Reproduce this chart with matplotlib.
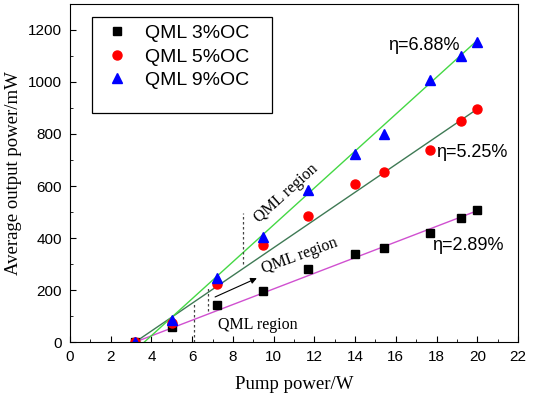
import matplotlib.pyplot as plt
from matplotlib.patches import Rectangle
from matplotlib.ticker import MultipleLocator

pump = [3.2, 5.0, 7.2, 9.5, 11.7, 14.0, 15.4, 17.7, 19.2, 20.0]
oc3 = [0, 58, 142, 196, 281, 338, 361, 419, 477, 507]
oc5 = [0, 72, 223, 373, 485, 607, 654, 738, 850, 896]
oc9 = [0, 85, 246, 404, 585, 723, 800, 1008, 1100, 1154]

# fit lines (start, end)
fit3_x = [3.2, 20.0]
fit3_y = [0, 505]
fit5_x = [3.2, 20.0]
fit5_y = [0, 896]
fit9_x = [3.65, 20.0]
fit9_y = [0, 1160]

# dashed markers of the QML region boundaries
dash_x = [6.1, 6.8, 8.5]
dash_lo = [0, 120, 300]
dash_hi = [146, 211, 496]

serif = "Liberation Serif"
sans = "Liberation Sans"

fig = plt.figure(figsize=(5.36, 3.95), dpi=100)
ax = fig.add_axes([0.1306, 0.134, 0.8358, 0.856])

ax.plot(fit3_x, fit3_y, color="#d050d0", lw=1.0)
ax.plot(fit5_x, fit5_y, color="#3f7a55", lw=1.0)
ax.plot(fit9_x, fit9_y, color="#44d844", lw=1.0)

ax.plot(pump, oc3, "s", color="black", ms=6, label="QML 3%OC")
ax.plot(pump, oc5, "o", color="red", ms=6.5, label="QML 5%OC")
ax.plot(pump, oc9, "^", color="blue", ms=7.5, label="QML 9%OC")

for x, lo, hi in zip(dash_x, dash_lo, dash_hi):
    ax.plot([x, x], [lo, hi], ls=(0, (2, 2)), color="#444444", lw=0.9)

ax.annotate("", xy=(9.3, 250), xytext=(7.0, 169),
            arrowprops=dict(arrowstyle="-|>", color="black", lw=0.8,
                            mutation_scale=9))

ax.text(9.2, 65, "QML region", family=serif, fontsize=11.5,
        ha="center", va="center")
ax.text(11.3, 331, "QML region", family=serif, fontsize=11.5,
        ha="center", va="center", rotation=20)
ax.text(10.6, 573, "QML region", family=serif, fontsize=11.5,
        ha="center", va="center", rotation=42)

ax.text(15.6, 1142, "η=6.88%", family=sans, fontsize=13, va="center")
ax.text(18.0, 727, "η=5.25%", family=sans, fontsize=13, va="center")
ax.text(17.8, 373, "η=2.89%", family=sans, fontsize=13, va="center")

ax.set_xlim(0, 22)
ax.set_ylim(0, 1300)
ax.xaxis.set_major_locator(MultipleLocator(2))
ax.xaxis.set_minor_locator(MultipleLocator(1))
ax.yaxis.set_major_locator(MultipleLocator(200))
ax.yaxis.set_minor_locator(MultipleLocator(100))
ax.tick_params(which="both", direction="in", top=False, right=False)
ax.tick_params(which="major", length=4, labelsize=11, pad=6)
ax.tick_params(which="minor", length=2.5)
for lab in ax.get_xticklabels() + ax.get_yticklabels():
    lab.set_family(sans)

ax.set_xlabel("Pump power/W", family=serif, fontsize=13.5, labelpad=8)
ax.set_ylabel("Average output power/mW", family=serif, fontsize=13.5,
              labelpad=4)

leg = ax.legend(loc="upper left", bbox_to_anchor=(0.055, 0.962), frameon=False,
                prop={"family": sans, "size": 14}, handletextpad=0.7,
                labelspacing=0.3, borderaxespad=0, handlelength=1.5)
ax.add_patch(Rectangle((0.049, 0.6775), 0.402, 0.284, transform=ax.transAxes,
                       fill=False, lw=0.9, edgecolor="black", zorder=5))

fig.savefig("out.png", dpi=100)
